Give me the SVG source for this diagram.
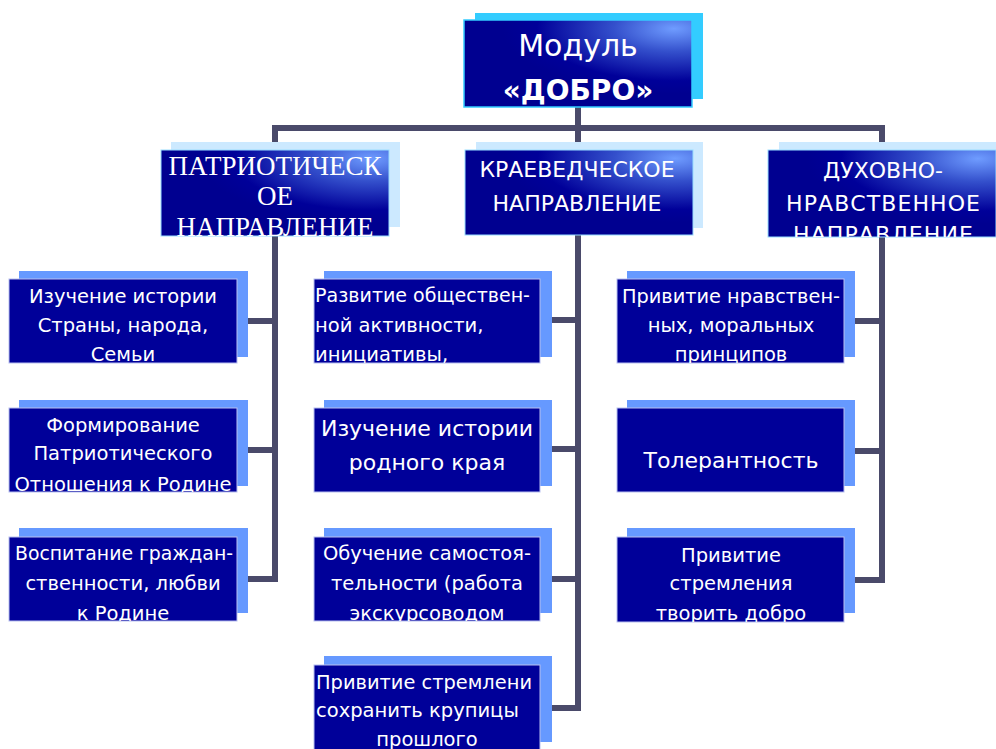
<svg xmlns="http://www.w3.org/2000/svg" width="996" height="749" viewBox="0 0 996 749">
<defs>
<radialGradient id="hg" cx="0.92" cy="0.1" r="0.75" gradientUnits="objectBoundingBox">
<stop offset="0" stop-color="#6f9cff"/>
<stop offset="0.35" stop-color="#3450cc"/>
<stop offset="0.8" stop-color="#000099"/>
<stop offset="1" stop-color="#000090"/>
</radialGradient>
<clipPath id="c0"><rect x="464" y="20" width="228" height="87"/></clipPath>
<clipPath id="ch1"><rect x="161" y="150" width="228" height="86"/></clipPath>
<clipPath id="ch2"><rect x="465" y="150" width="228" height="85"/></clipPath>
<clipPath id="ch3"><rect x="768" y="150" width="228" height="87"/></clipPath>
<clipPath id="cl1"><rect x="9" y="279" width="228" height="84"/></clipPath>
<clipPath id="cl2"><rect x="9" y="408" width="228" height="84"/></clipPath>
<clipPath id="cl3"><rect x="9" y="537" width="228" height="84"/></clipPath>
<clipPath id="cm1"><rect x="314" y="279" width="226" height="84"/></clipPath>
<clipPath id="cm2"><rect x="314" y="408" width="226" height="84"/></clipPath>
<clipPath id="cm3"><rect x="314" y="537" width="226" height="84"/></clipPath>
<clipPath id="cm4"><rect x="314" y="665" width="226" height="90"/></clipPath>
<clipPath id="cr1"><rect x="617" y="279" width="227" height="84"/></clipPath>
<clipPath id="cr2"><rect x="617" y="408" width="227" height="84"/></clipPath>
<clipPath id="cr3"><rect x="617" y="537" width="227" height="85"/></clipPath>
</defs>
<style>
.conn{fill:none;stroke:#4a4a6a;stroke-width:6;stroke-linejoin:miter}
.hsh{fill:#cce9ff}
.tsh{fill:#33ccff}
.hd{fill:url(#hg);stroke:#99ddff;stroke-width:1}
.top{fill:url(#hg);stroke:#33ccff;stroke-width:1.5}
.bsh{fill:#6699ff}
.bx{fill:#000099;stroke:#b8bff0;stroke-width:1}
.t{fill:#ffffff;font-family:"DejaVu Sans","Liberation Sans",sans-serif;font-size:19.5px}
.tc{text-anchor:middle}
.big{font-size:22px}
.ser{font-family:"Liberation Serif","DejaVu Serif",serif;font-size:27px}
.t1{font-size:30px}
.t2{font-size:28px;font-weight:bold}
</style>
<g id="connectors">
<line class="conn" x1="578" y1="106" x2="578" y2="128"/>
<line class="conn" x1="272" y1="128" x2="885" y2="128"/>
<polyline class="conn" points="275,128 275,579 247,579"/>
<line class="conn" x1="247" y1="321" x2="275" y2="321"/>
<line class="conn" x1="247" y1="450" x2="275" y2="450"/>
<polyline class="conn" points="578,128 578,708 551,708"/>
<line class="conn" x1="551" y1="320" x2="578" y2="320"/>
<line class="conn" x1="551" y1="449" x2="578" y2="449"/>
<line class="conn" x1="551" y1="579" x2="578" y2="579"/>
<polyline class="conn" points="882,128 882,580 854,580"/>
<line class="conn" x1="854" y1="321" x2="882" y2="321"/>
<line class="conn" x1="854" y1="451" x2="882" y2="451"/>
</g>
<g id="root">
<rect class="tsh" x="475" y="13" width="228" height="86"/>
<rect class="top" x="464" y="20" width="228" height="87"/>
<g clip-path="url(#c0)">
<text class="t tc t1" x="578" y="56">Модуль</text>
<text class="t tc t2" x="578" y="100">«ДОБРО»</text>
</g>
</g>
<g id="h1">
<rect class="hsh" x="171" y="142" width="229" height="85"/>
<rect class="hd" x="161" y="150" width="228" height="86"/>
<g clip-path="url(#ch1)">
<text class="t tc ser" x="275" y="175">ПАТРИОТИЧЕСК</text>
<text class="t tc ser" x="275" y="205">ОЕ</text>
<text class="t tc ser" x="275" y="236">НАПРАВЛЕНИЕ</text>
</g>
</g>
<g id="h2">
<rect class="hsh" x="476" y="142" width="227" height="86"/>
<rect class="hd" x="465" y="150" width="228" height="85"/>
<g clip-path="url(#ch2)">
<text class="t tc big" x="577" y="177">КРАЕВЕДЧЕСКОЕ</text>
<text class="t tc big" x="577" y="211">НАПРАВЛЕНИЕ</text>
</g>
</g>
<g id="h3">
<rect class="hsh" x="779" y="142" width="217" height="86"/>
<rect class="hd" x="768" y="150" width="228" height="87"/>
<g clip-path="url(#ch3)">
<text class="t tc big" x="883" y="178">ДУХОВНО-</text>
<text class="t tc big" x="883" y="211" textLength="194" lengthAdjust="spacing">НРАВСТВЕННОЕ</text>
<text class="t tc big" x="883" y="242" textLength="180" lengthAdjust="spacing">НАПРАВЛЕНИЕ</text>
</g>
</g>
<g id="l1">
<rect class="bsh" x="19" y="271" width="229" height="86"/>
<rect class="bx" x="9" y="279" width="228" height="84"/>
<g clip-path="url(#cl1)">
<text class="t tc" x="123" y="303">Изучение истории</text>
<text class="t tc" x="123" y="332">Страны, народа,</text>
<text class="t tc" x="123" y="361">Семьи</text>
</g>
</g>
<g id="l2">
<rect class="bsh" x="19" y="400" width="229" height="86"/>
<rect class="bx" x="9" y="408" width="228" height="84"/>
<g clip-path="url(#cl2)">
<text class="t tc" x="123" y="432">Формирование</text>
<text class="t tc" x="123" y="460">Патриотического</text>
<text class="t tc" x="123" y="491">Отношения к Родине</text>
</g>
</g>
<g id="l3">
<rect class="bsh" x="19" y="528" width="229" height="85"/>
<rect class="bx" x="9" y="537" width="228" height="84"/>
<g clip-path="url(#cl3)">
<text class="t tc" x="124" y="560" textLength="218" lengthAdjust="spacingAndGlyphs">Воспитание граждан-</text>
<text class="t tc" x="123" y="590">ственности, любви</text>
<text class="t tc" x="123" y="620">к Родине</text>
</g>
</g>
<g id="m1">
<rect class="bsh" x="324" y="271" width="228" height="86"/>
<rect class="bx" x="314" y="279" width="226" height="84"/>
<g clip-path="url(#cm1)">
<text class="t" x="315" y="302" textLength="215" lengthAdjust="spacingAndGlyphs">Развитие обществен-</text>
<text class="t" x="315" y="332">ной активности,</text>
<text class="t" x="315" y="361">инициативы,</text>
</g>
</g>
<g id="m2">
<rect class="bsh" x="324" y="400" width="228" height="86"/>
<rect class="bx" x="314" y="408" width="226" height="84"/>
<g clip-path="url(#cm2)">
<text class="t tc big" x="427" y="436">Изучение истории</text>
<text class="t tc big" x="427" y="470">родного края</text>
</g>
</g>
<g id="m3">
<rect class="bsh" x="324" y="528" width="228" height="85"/>
<rect class="bx" x="314" y="537" width="226" height="84"/>
<g clip-path="url(#cm3)">
<text class="t tc" x="427" y="560">Обучение самостоя-</text>
<text class="t tc" x="427" y="590">тельности (работа</text>
<text class="t tc" x="427" y="620">экскурсоводом</text>
</g>
</g>
<g id="m4">
<rect class="bsh" x="324" y="656" width="228" height="86"/>
<rect class="bx" x="314" y="665" width="226" height="90"/>
<g clip-path="url(#cm4)">
<text class="t" x="316" y="689" textLength="216" lengthAdjust="spacingAndGlyphs">Привитие стремлени</text>
<text class="t" x="316" y="717">сохранить крупицы</text>
<text class="t tc" x="427" y="746">прошлого</text>
</g>
</g>
<g id="r1">
<rect class="bsh" x="627" y="271" width="228" height="86"/>
<rect class="bx" x="617" y="279" width="227" height="84"/>
<g clip-path="url(#cr1)">
<text class="t tc" x="731" y="303" textLength="218" lengthAdjust="spacingAndGlyphs">Привитие нравствен-</text>
<text class="t tc" x="731" y="332">ных, моральных</text>
<text class="t tc" x="731" y="361">принципов</text>
</g>
</g>
<g id="r2">
<rect class="bsh" x="627" y="400" width="228" height="86"/>
<rect class="bx" x="617" y="408" width="227" height="84"/>
<g clip-path="url(#cr2)">
<text class="t tc big" x="731" y="468">Толерантность</text>
</g>
</g>
<g id="r3">
<rect class="bsh" x="627" y="528" width="228" height="85"/>
<rect class="bx" x="617" y="537" width="227" height="85"/>
<g clip-path="url(#cr3)">
<text class="t tc" x="731" y="562">Привитие</text>
<text class="t tc" x="731" y="590">стремления</text>
<text class="t tc" x="731" y="620">творить добро</text>
</g>
</g>
</svg>
